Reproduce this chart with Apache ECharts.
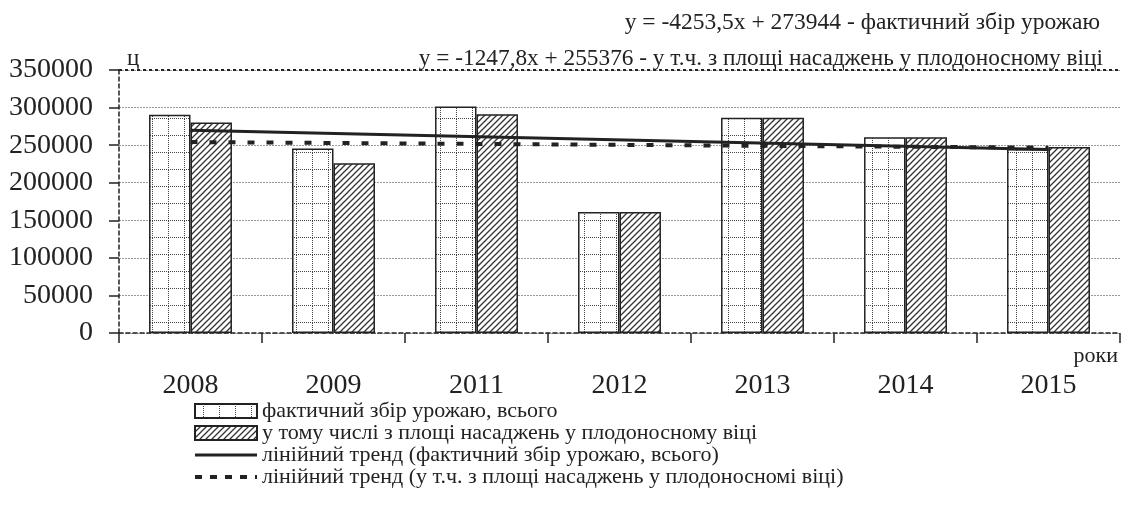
<!DOCTYPE html>
<html>
<head>
<meta charset="utf-8">
<script src="https://cdn.jsdelivr.net/npm/echarts@6/dist/echarts.min.js"></script>
<style>html,body{margin:0;padding:0;background:#fff;}#c{width:1121px;height:515px;}</style>
</head>
<body>
<div id="c"></div>
<script>
// ---- data ----
const categories = ['2008', '2009', '2011', '2012', '2013', '2014', '2015'];
const totalHarvest = [290500, 245500, 301500, 161000, 286500, 260500, 245000];
const fruitingHarvest = [280000, 226000, 291000, 161000, 286500, 260500, 247500];
const trendTotal = [269700, null, null, null, null, null, 244200];
const trendFruiting = [254100, null, null, null, null, null, 246600];
const yTicks = { min: 0, max: 350000, interval: 50000 };
const seriesNames = [
  'фактичний збір урожаю, всього',
  'у тому числі з площі насаджень у плодоносному віці',
  'лінійний тренд (фактичний збір урожаю, всього)',
  'лінійний тренд (у т.ч. з площі насаджень у плодоносномі віці)'
];
const eq1 = 'y = -4253,5x + 273944 - фактичний збір урожаю';
const eq2 = 'y = -1247,8x + 255376 - у т.ч. з площі насаджень у плодоносному віці';

// ---- patterns ----
function dotGrid() {
  const c = document.createElement('canvas');
  c.width = 16; c.height = 17;
  const g = c.getContext('2d');
  g.fillStyle = '#fff'; g.fillRect(0, 0, 16, 17);
  g.fillStyle = '#444';
  for (let x = 0; x < 16; x += 2) g.fillRect(x, 16, 1, 1);
  for (let y = 0; y < 17; y += 2) g.fillRect(8, y, 1, 1);
  return c;
}
function hatch() {
  const s = 6;
  const c = document.createElement('canvas');
  c.width = s; c.height = s;
  const g = c.getContext('2d');
  g.fillStyle = '#fff'; g.fillRect(0, 0, s, s);
  g.strokeStyle = '#333'; g.lineWidth = 1.3;
  g.beginPath();
  g.moveTo(-1, s + 1); g.lineTo(s + 1, -1);
  g.moveTo(-1, 1); g.lineTo(1, -1);
  g.moveTo(s - 1, s + 1); g.lineTo(s + 1, s - 1);
  g.stroke();
  return c;
}
const serif = 'Liberation Serif';
const ink = '#222';
const noSymbol = { color: 'rgba(0,0,0,0)', borderWidth: 0 };

const chart = echarts.init(document.getElementById('c'));
chart.setOption({
  backgroundColor: '#fff',
  animation: false,
  textStyle: { fontFamily: serif, color: ink },
  title: [
    { text: eq1, right: 16, top: 6, textStyle: { fontFamily: serif, fontSize: 23.5, fontWeight: 'normal', color: ink } },
    { text: eq2, right: 13, top: 42, textStyle: { fontFamily: serif, fontSize: 23.3, fontWeight: 'normal', color: ink } }
  ],
  legend: {
    orient: 'vertical', left: 193, top: 400, padding: 0,
    itemWidth: 62, itemHeight: 14, itemGap: 0,
    textStyle: { fontFamily: serif, fontSize: 22, color: ink, lineHeight: 20 },
    data: [
      { name: seriesNames[0], icon: 'rect' },
      { name: seriesNames[1], icon: 'rect' },
      { name: seriesNames[2], itemStyle: noSymbol, lineStyle: { width: 3 } },
      { name: seriesNames[3], itemStyle: noSymbol, lineStyle: { width: 4, type: [7, 8] } }
    ]
  },
  grid: { left: 119, right: 1, top: 70, bottom: 182, containLabel: false },
  xAxis: {
    type: 'category', data: categories, boundaryGap: true,
    name: 'роки', nameLocation: 'end', nameGap: 0,
    nameTextStyle: { fontFamily: serif, fontSize: 22, color: ink, align: 'right', verticalAlign: 'top', padding: [12, 2, 0, 0] },
    axisLine: { show: true, lineStyle: { color: ink, width: 1.5, type: [4, 3] } },
    axisTick: { show: true, length: 10, interval: 0, lineStyle: { color: ink, width: 1.5 } },
    axisLabel: { fontFamily: serif, fontSize: 28, color: ink, margin: 39, interval: 0 },
    splitLine: { show: false }
  },
  yAxis: {
    type: 'value', min: yTicks.min, max: yTicks.max, interval: yTicks.interval,
    name: 'ц', nameLocation: 'end', nameGap: 0,
    nameTextStyle: { fontFamily: serif, fontSize: 23, color: ink, align: 'left', padding: [0, 0, 0, 8] },
    axisLine: { show: true, lineStyle: { color: ink, width: 1.5, type: [4, 3] } },
    axisTick: { show: true, length: 10, lineStyle: { color: ink, width: 1.5 } },
    axisLabel: { fontFamily: serif, fontSize: 28, color: ink, margin: 26, formatter: v => String(v) },
    splitLine: { show: true, lineStyle: { color: '#999', width: 1, type: [2, 1] } }
  },
  series: [
    {
      name: seriesNames[0], type: 'bar', data: totalHarvest,
      barGap: '0%', barCategoryGap: '42%',
      itemStyle: { color: { image: dotGrid(), repeat: 'repeat' }, borderColor: ink, borderWidth: 1.5 },
      markLine: {
        silent: true, symbol: 'none', label: { show: false },
        lineStyle: { color: ink, width: 2, type: [3, 3] },
        data: [{ yAxis: yTicks.max }]
      }
    },
    {
      name: seriesNames[1], type: 'bar', data: fruitingHarvest,
      itemStyle: { color: { image: hatch(), repeat: 'repeat' }, borderColor: ink, borderWidth: 1.5 }
    },
    {
      name: seriesNames[2], type: 'line', data: trendTotal, connectNulls: true,
      symbol: 'none', lineStyle: { color: ink, width: 3 }, itemStyle: { color: ink }, z: 5
    },
    {
      name: seriesNames[3], type: 'line', data: trendFruiting, connectNulls: true,
      symbol: 'none', lineStyle: { color: ink, width: 4, type: [7, 12] }, itemStyle: { color: ink }, z: 4
    }
  ]
});
</script>
</body>
</html>
